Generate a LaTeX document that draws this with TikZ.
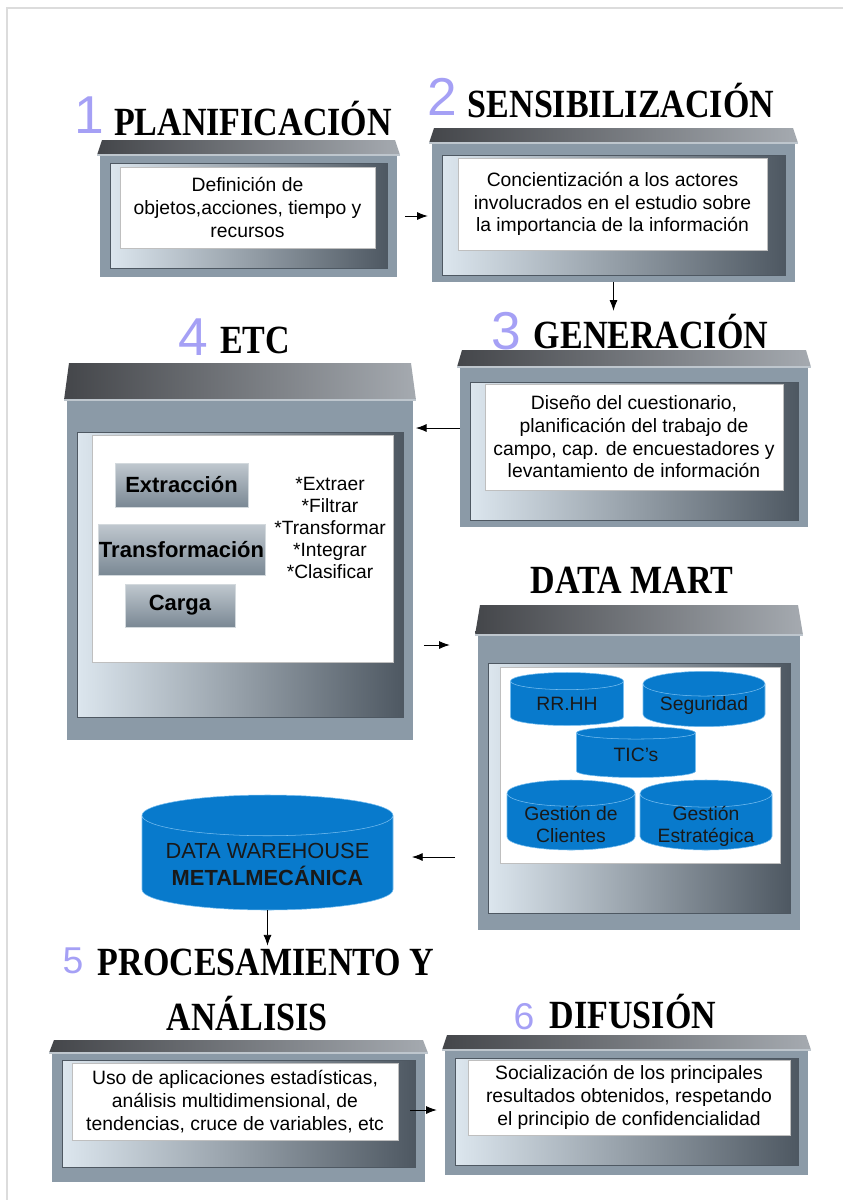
\documentclass[tikz,border=0pt]{standalone}
\usepackage{fontspec}
\setmainfont{Liberation Sans}
\newfontfamily\headfont[FakeStretch=0.85]{Liberation Serif}
\usetikzlibrary{arrows.meta,fit,shapes.geometric}

\definecolor{framegray}{RGB}{139,154,167}
\definecolor{capdark}{RGB}{68,70,74}
\definecolor{caplight}{RGB}{165,170,176}
\definecolor{caplip}{RGB}{190,198,205}
\definecolor{recesslight}{RGB}{220,230,238}
\definecolor{recessdark}{RGB}{78,88,98}
\definecolor{numcol}{RGB}{165,160,245}
\definecolor{dbblue}{RGB}{8,122,204}
\definecolor{dbedge}{RGB}{120,190,240}
\definecolor{btnlight}{RGB}{192,200,207}
\definecolor{btndark}{RGB}{122,136,148}
\definecolor{pagerule}{RGB}{220,220,220}

% pixel -> pt
\newcommand{\px}[1]{#1*0.75pt}
% two-line cylinder label, lowered below the lid
\newcommand{\dbtext}[2]{\raisebox{-#1}[0pt][0pt]{\begin{tabular}[b]{@{}c@{}}#2\end{tabular}}}

% frame: name, x1, y1, x2, y2 (body), lid height, recess top / bottom inset
\newcommand{\shelf}[8]{%
  \node[shelfbody, fit={(#2,#3) (#4,#5)}] (#1) {};
  \shade[left color=capdark, right color=caplight]
    ({#2-3},#3) -- ({#2+2},{#3-#6}) -- ({#4-2},{#3-#6}) -- ({#4+3},#3) -- cycle;
  \draw[lip] ({#2-3},#3) -- ({#4+3},#3);
  \shade[left color=recesslight, right color=recessdark]
    ({#2+10},{#3+#7}) rectangle ({#4-10},{#5-#8});
  \draw[recessdark, line width=0.6pt] ({#2+10},{#3+#7}) rectangle ({#4-10},{#5-#8});
}

\begin{document}
\begin{tikzpicture}[x=0.75pt, y=-0.75pt,
    shelfbody/.style={fill=framegray, inner sep=0pt},
    lip/.style={draw=caplip, line width=0.8pt},
    panel/.style={fill=white, draw=black!25, line width=0.4pt, align=center,
      inner sep=2pt, font=\fontsize{14.5}{17}\selectfont},
    ttl/.style={anchor=base, inner sep=2pt,
      font=\headfont\bfseries\fontsize{30}{32}\selectfont},
    num/.style={anchor=base, inner sep=1pt, text=numcol,
      font=\fontsize{40}{40}\selectfont},
    btn/.style={top color=btnlight, bottom color=btndark, draw=btnlight!70!white,
      line width=0.5pt, inner sep=0pt, font=\bfseries\fontsize{16.5}{18}\selectfont},
    db/.style={cylinder, shape border rotate=90, shape aspect=0.28, draw=dbedge,
      fill=dbblue, text=black!90, align=center, inner sep=0pt, anchor=shape center,
      font=\fontsize{14.5}{16.5}\selectfont},
    flow/.style={-{Latex[length=8pt,width=6pt]}, line width=0.6pt}]
    \useasboundingbox (0,0) rectangle (843,1200);
    \draw[pagerule, line width=1.5pt] (7,1200) -- (7,8) -- (843,8);

    % headings
    \node[num] (n1) at (89,133) {1};
    \node[ttl] (h1) at (253,135) {PLANIFICACIÓN};
    \node[num] (n2) at (442,115) {2};
    \node[ttl] (h2) at (621,117) {SENSIBILIZACIÓN};
    \node[num] (n3) at (506,349) {3};
    \node[ttl] (h3) at (651,348) {GENERACIÓN};
    \node[num] (n4) at (193,355) {4};
    \node[ttl] (h4) at (255,353) {ETC};
    \node[ttl] (hm) at (632,593) {DATA MART};
    \node[num, font=\fontsize{28}{28}\selectfont] (n5) at (73,973) {5};
    \node[ttl] (h5) at (266,975) {PROCESAMIENTO Y};
    \node[ttl] (h5b) at (247,1030) {ANÁLISIS};
    \node[num, font=\fontsize{28}{28}\selectfont] (n6) at (524,1029) {6};
    \node[ttl] (h6) at (633,1028) {DIFUSIÓN};

    % frames
    \shelf{f1}{100}{155}{397}{277}{15}{8}{9}
    \shelf{f2}{432}{143}{795}{282}{15}{12}{7}
    \shelf{f3}{460}{367}{808}{527}{17}{15}{7}
    \shelf{fe}{67}{400}{413}{740}{37}{32}{23}
    \shelf{fm}{478}{635}{800}{930}{30}{28}{17}
    \shelf{f5}{52}{1053}{425}{1182}{13}{7}{15}
    \shelf{f6}{445}{1050}{808}{1175}{15}{8}{10}

    % panels
    \node[panel, minimum width=\px{255}, minimum height=\px{81}] (p1) at (247.5,207.5)
      {Definición de\\objetos,acciones, tiempo y\\recursos};
    \node[panel, minimum width=\px{309}, minimum height=\px{92}] (p2) at (612.5,204)
      {Concientización a los actores\\involucrados en el estudio sobre\\la importancia de la información};
    \node[panel, minimum width=\px{298}, minimum height=\px{106}] (p3) at (634,437)
      {Diseño del cuestionario,\\planificación del trabajo de\\campo, cap. de encuestadores y\\levantamiento de información};
    \node[panel, minimum width=\px{301}, minimum height=\px{227}] (pe) at (242.5,548.5) {};
    \node[panel, minimum width=\px{280}, minimum height=\px{196}] (pm) at (640,765) {};
    \node[panel, minimum width=\px{326}, minimum height=\px{77}] (p5) at (235,1101.5)
      {Uso de aplicaciones estadísticas,\\análisis multidimensional, de\\tendencias, cruce de variables, etc};
    \node[panel, minimum width=\px{322}, minimum height=\px{75}] (p6) at (629,1097.5)
      {Socialización de los principales\\resultados obtenidos, respetando\\el principio de confidencialidad};

    % ETC
    \foreach \n/\x/\y/\w/\h/\t in {ex/181.5/485/133/44/Extracción,
        tr/181.5/549.5/167/51/Transformación, ca/180/605.5/110/43/Carga}{
      \node[btn, minimum width=\px{\w}, minimum height=\px{\h}] (\n) at (\x,\y) {\t};
    }
    \node[align=center, font=\fontsize{14.4}{16.5}\selectfont] (lst) at (330,527.5)
      {*Extraer\\*Filtrar\\*Transformar\\*Integrar\\*Clasificar};

    % data mart
    \foreach \n/\x/\y/\w/\h/\t in {rr/567/699/113/53/RR.HH,
        sg/704/699/122/53/Seguridad, tc/636/752/119/51/TIC's,
        gc/571/815/128/70/{\dbtext{15.75pt}{Gestión de\\Clientes}},
        gs/706/815/132/70/{\dbtext{15.75pt}{Gestión\\Estratégica}}}{
      \node[db, minimum width=\px{\w}, minimum height=\px{\h}] (\n) at (\x,\y) {\t};
    }
    \node[db, shape aspect=0.2, minimum width=\px{251}, minimum height=\px{115},
      font=\fontsize{16.4}{20}\selectfont] (dw) at (267.5,852.5)
      {\dbtext{17pt}{DATA WAREHOUSE\\\textbf{METALMECÁNICA}}};

    % arrows
    \draw[flow, shorten <=6pt, shorten >=3pt] (f1.east) -- (f2.west |- f1.east);
    \draw[flow] (f2.south) -- (f2.south |- h3.north);
    \draw[flow, shorten >=2pt] (f3.west |- 0,428) -- (fe.east |- 0,428);
    \draw[flow, shorten <=8pt, shorten >=21pt] (fe.east |- 0,645) -- (fm.west |- 0,645);
    \draw[flow, shorten <=17pt, shorten >=14pt] (fm.west |- 0,857) -- (dw.east |- 0,857);
    \draw[flow] (dw.south) -- (dw.south |- h5.north);
    \draw[flow, shorten <=9pt, shorten >=6pt] (p5.east |- 0,1110) -- (f6.west |- 0,1110);
\end{tikzpicture}
\end{document}
